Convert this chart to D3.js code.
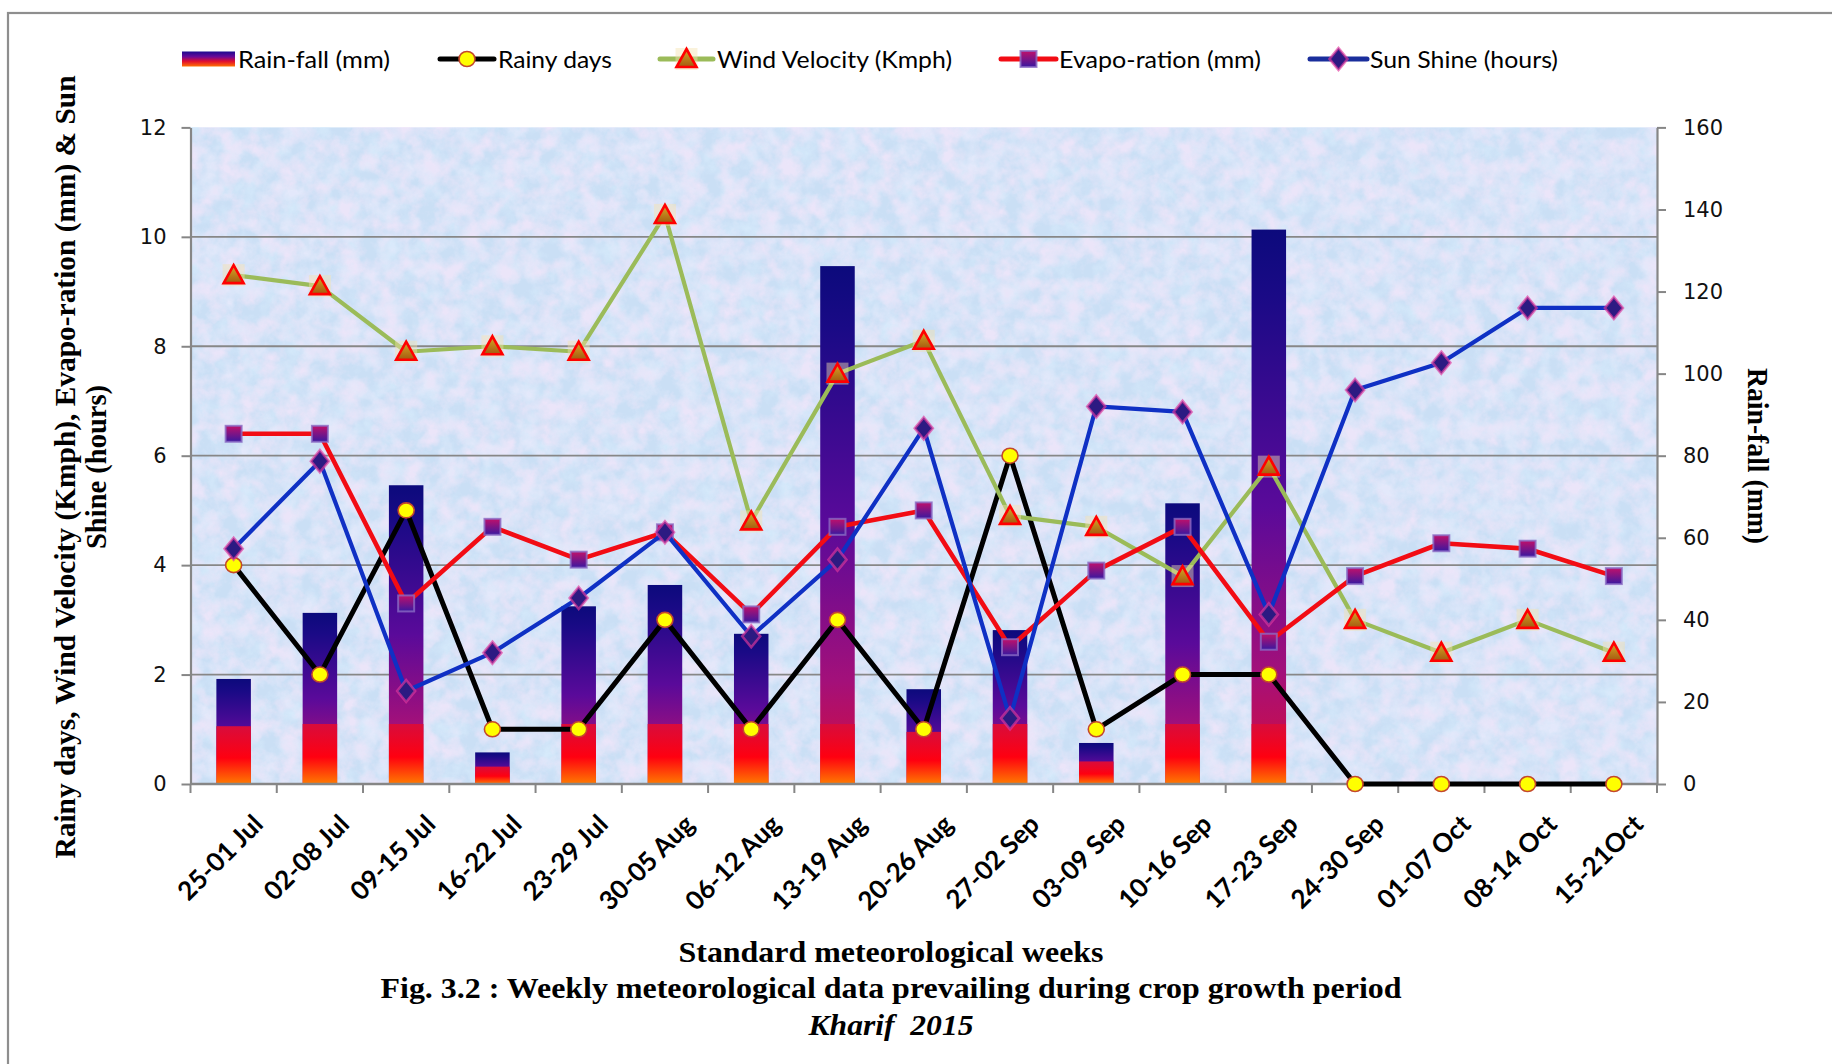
<!DOCTYPE html>
<html>
<head>
<meta charset="utf-8">
<script src="https://cdn.jsdelivr.net/npm/d3@7"></script>
<style>
  html, body { margin: 0; padding: 0; background: #ffffff; }
  svg { display: block; }
</style>
</head>
<body>
<svg id="chart" width="1832" height="1064"></svg>
<script>
// Standard meteorological weeks, Kharif 2015
const weeks = ["25-01 Jul", "02-08 Jul", "09-15 Jul", "16-22 Jul", "23-29 Jul", "30-05 Aug",
  "06-12 Aug", "13-19 Aug", "20-26 Aug", "27-02 Sep", "03-09 Sep", "10-16 Sep",
  "17-23 Sep", "24-30 Sep", "01-07 Oct", "08-14 Oct", "15-21Oct"];

// Rain-fall (mm), right axis
const rainfall = [25.6, 41.7, 72.8, 7.7, 43.3, 48.5, 36.6, 126.2, 23.1, 37.5, 10.0, 68.4, 135.1, 0, 0, 0, 0];
// Left-axis series
const rainyDays = [4, 2, 5, 1, 1, 3, 1, 3, 1, 6, 1, 2, 2, 0, 0, 0, 0];
const windVelocity = [9.3, 9.1, 7.9, 8.0, 7.9, 10.4, 4.8, 7.5, 8.1, 4.9, 4.7, 3.8, 5.8, 3.0, 2.4, 3.0, 2.4];
const evaporation = [6.4, 6.4, 3.3, 4.7, 4.1, 4.6, 3.1, 4.7, 5.0, 2.5, 3.9, 4.7, 2.6, 3.8, 4.4, 4.3, 3.8];
const sunShine = [4.3, 5.9, 1.7, 2.4, 3.4, 4.6, 2.7, 4.1, 6.5, 1.2, 6.9, 6.8, 3.1, 7.2, 7.7, 8.7, 8.7];

const leftTicks = [0, 2, 4, 6, 8, 10, 12];
const rightTicks = [0, 20, 40, 60, 80, 100, 120, 140, 160];

const seriesNames = ["Rain-fall (mm)", "Rainy days", "Wind Velocity (Kmph)", "Evapo-ration (mm)", "Sun Shine (hours)"];

const svg = d3.select("#chart");
const plot = { left: 190.5, right: 1657, top: 127.4, bottom: 784 };

const x = d3.scaleBand().domain(weeks).range([plot.left, plot.right]);
const yL = d3.scaleLinear().domain([0, 12]).range([plot.bottom, plot.top]);
const yR = d3.scaleLinear().domain([0, 160]).range([plot.bottom, plot.top]);
const cx = d => x(d) + x.bandwidth() / 2;

const defs = svg.append("defs");

// mottled paper texture for the plot area
const paper = defs.append("filter").attr("id", "paper")
  .attr("x", 0).attr("y", 0).attr("width", 1).attr("height", 1);
paper.append("feTurbulence").attr("type", "fractalNoise").attr("baseFrequency", "0.05")
  .attr("numOctaves", 4).attr("seed", 7).attr("result", "noise");
paper.append("feColorMatrix").attr("in", "noise").attr("type", "matrix")
  .attr("values", "0 0 0 0 0.70  0 0 0 0 0.85  0 0 0 0 0.98  0 2.2 0 0 -1.0").attr("result", "blue");
paper.append("feColorMatrix").attr("in", "noise").attr("type", "matrix")
  .attr("values", "0 0 0 0 0.92  0 0 0 0 0.80  0 0 0 0 0.96  2.6 0 0 0 -1.05").attr("result", "pink");
paper.append("feColorMatrix").attr("in", "noise").attr("type", "matrix")
  .attr("values", "0 0 0 0 0.84  0 0 0 0 0.84  0 0 0 0 0.98  0 0 2.4 0 -1.0").attr("result", "lav");
const pm = paper.append("feMerge");
pm.append("feMergeNode").attr("in", "blue");
pm.append("feMergeNode").attr("in", "lav");
pm.append("feMergeNode").attr("in", "pink");

function vGrad(id, stops) {
  const g = defs.append("linearGradient").attr("id", id)
    .attr("x1", 0).attr("y1", 0).attr("x2", 0).attr("y2", 1);
  stops.forEach(([o, c]) => g.append("stop").attr("offset", o).attr("stop-color", c));
}
vGrad("barMain", [[0, "#0c0a7c"], [0.12, "#1a0a86"], [0.5, "#5a0a9a"], [0.8, "#a3107a"], [1, "#dc0c36"]]);
vGrad("barBase", [[0, "#d80c3c"], [0.55, "#ff0010"], [1, "#ff7a00"]]);
vGrad("legendBar", [[0, "#1a0a90"], [0.35, "#6a0a98"], [0.65, "#e00c30"], [1, "#ff7000"]]);
vGrad("triFill", [[0, "#d8a828"], [1, "#a45a10"]]);
vGrad("sqFill", [[0, "#c0106a"], [1, "#3a18a0"]]);

// ---- plot area background ----
svg.append("rect").attr("x", plot.left).attr("y", plot.top)
  .attr("width", plot.right - plot.left).attr("height", plot.bottom - plot.top)
  .attr("fill", "#cadff5");
svg.append("rect").attr("x", plot.left).attr("y", plot.top)
  .attr("width", plot.right - plot.left).attr("height", plot.bottom - plot.top)
  .attr("filter", "url(#paper)").attr("opacity", 0.75);

// outer frame
svg.append("rect").attr("x", 8).attr("y", 13).attr("width", 1900).attr("height", 1100)
  .attr("fill", "none").attr("stroke", "#8e8e8e").attr("stroke-width", 2.2);

// ---- gridlines ----
svg.append("g").selectAll("line")
  .data(leftTicks.filter(t => t > 0 && t < 12))
  .join("line")
  .attr("x1", plot.left).attr("x2", plot.right)
  .attr("y1", d => yL(d)).attr("y2", d => yL(d))
  .attr("stroke", "#878787").attr("stroke-width", 1.8);

// ---- bars (rain-fall, right axis) ----
const barW = x.bandwidth() * 0.4;
const bars = svg.append("g");
weeks.forEach((w, i) => {
  const v = rainfall[i];
  if (v <= 0) return;
  const top = yR(v), h = yR(0) - top;
  bars.append("rect").attr("x", cx(w) - barW / 2).attr("y", top)
    .attr("width", barW).attr("height", h).attr("fill", "url(#barMain)");
  const hb = Math.min(h * 0.55, 60);
  bars.append("rect").attr("x", cx(w) - barW / 2).attr("y", yR(0) - hb)
    .attr("width", barW).attr("height", hb).attr("fill", "url(#barBase)");
});

// ---- axes ----
const axisColor = "#868686";
const gL = svg.append("g").attr("transform", `translate(${plot.left},0)`)
  .call(d3.axisLeft(yL).tickValues(leftTicks).tickSize(9).tickSizeOuter(0).tickPadding(15));
const gR = svg.append("g").attr("transform", `translate(${plot.right},0)`)
  .call(d3.axisRight(yR).tickValues(rightTicks).tickSize(9).tickSizeOuter(0).tickPadding(17));
[gL, gR].forEach(g => {
  g.select(".domain").attr("stroke", axisColor).attr("stroke-width", 2.2);
  g.selectAll(".tick line").attr("stroke", axisColor).attr("stroke-width", 2);
  g.selectAll(".tick text").attr("font-family", "'DejaVu Sans', Verdana, sans-serif")
    .attr("font-size", 21).attr("fill", "#111");
});

// category axis
const gX = svg.append("g");
gX.append("line").attr("x1", plot.left).attr("x2", plot.right)
  .attr("y1", plot.bottom).attr("y2", plot.bottom)
  .attr("stroke", axisColor).attr("stroke-width", 2.4);
gX.selectAll("line.tk").data(weeks.map(w => x(w)).concat([plot.right]))
  .join("line").attr("class", "tk")
  .attr("x1", d => d).attr("x2", d => d)
  .attr("y1", plot.bottom).attr("y2", plot.bottom + 9)
  .attr("stroke", axisColor).attr("stroke-width", 2);
gX.selectAll("text").data(weeks).join("text")
  .attr("transform", d => `translate(${cx(d) + 31},${plot.bottom + 42}) rotate(-45)`)
  .attr("text-anchor", "end")
  .attr("font-family", "Lato, 'Open Sans', sans-serif").attr("font-weight", 700)
  .attr("font-size", 26).attr("fill", "#000")
  .text(d => d);

// ---- line series ----
const line = d3.line().x((d, i) => cx(weeks[i])).y(d => yL(d));

function drawSeries(vals, color, width, marker) {
  const g = svg.append("g");
  g.append("path").datum(vals).attr("d", line)
    .attr("fill", "none").attr("stroke", color).attr("stroke-width", width)
    .attr("stroke-linejoin", "round");
  vals.forEach((v, i) => marker(g, cx(weeks[i]), yL(v)));
}

function circleMark(g, px, py) {
  g.append("ellipse").attr("cx", px).attr("cy", py).attr("rx", 8).attr("ry", 7.5)
    .attr("fill", "#ffff00").attr("stroke", "#c4482c").attr("stroke-width", 1.6);
}
function triMark(g, px, py) {
  g.append("rect").attr("x", px - 11).attr("y", py - 11).attr("width", 22).attr("height", 22)
    .attr("fill", "#f3e2b0").attr("opacity", 0.45);
  g.append("path").attr("d", `M${px},${py - 10}L${px + 10},${py + 8}L${px - 10},${py + 8}Z`)
    .attr("fill", "url(#triFill)").attr("stroke", "#ff0000").attr("stroke-width", 2.6)
    .attr("stroke-linejoin", "miter");
}
function squareMark(g, px, py) {
  g.append("rect").attr("x", px - 8).attr("y", py - 8).attr("width", 16).attr("height", 16)
    .attr("fill", "url(#sqFill)").attr("stroke", "#8a6ac4").attr("stroke-width", 2).attr("stroke-opacity", 0.8);
}
function diamondMark(g, px, py) {
  g.append("path").attr("d", `M${px},${py - 11}L${px + 9},${py}L${px},${py + 11}L${px - 9},${py}Z`)
    .attr("fill", "#2c1a82").attr("stroke", "#e0389c").attr("stroke-width", 2.6).attr("stroke-opacity", 0.65);
}

drawSeries(rainyDays, "#000000", 5, circleMark);
drawSeries(windVelocity, "#9bbb59", 4.2, triMark);
drawSeries(evaporation, "#f20c14", 4.6, squareMark);
drawSeries(sunShine, "#0f30c4", 4.2, diamondMark);

// ---- legend ----
const legY = 59;
const leg = svg.append("g");
leg.append("rect").attr("x", 182).attr("y", legY - 7.5).attr("width", 53).attr("height", 15)
  .attr("fill", "url(#legendBar)");
const legendItems = [
  { x1: 440, x2: 494, color: "#000000", w: 5, mark: circleMark },
  { x1: 660, x2: 713, color: "#9bbb59", w: 5, mark: triMark },
  { x1: 1001, x2: 1056, color: "#f20c14", w: 5, mark: squareMark },
  { x1: 1310, x2: 1367, color: "#1a2e9c", w: 5, mark: diamondMark }
];
legendItems.forEach(it => {
  leg.append("line").attr("x1", it.x1).attr("x2", it.x2).attr("y1", legY).attr("y2", legY)
    .attr("stroke", it.color).attr("stroke-width", it.w).attr("stroke-linecap", "round");
  it.mark(leg, (it.x1 + it.x2) / 2, legY);
});
const legTextX = [238, 498, 717, 1059, 1370];
const legTextW = [152, 114, 235, 202, 188];
seriesNames.forEach((s, i) => {
  leg.append("text").attr("x", legTextX[i]).attr("y", legY + 8.5)
    .attr("font-family", "Lato, 'Open Sans', sans-serif").attr("font-size", 24)
    .attr("textLength", legTextW[i]).attr("lengthAdjust", "spacingAndGlyphs")
    .attr("fill", "#000").text(s);
});

// ---- axis titles and captions ----
const serif = "'Liberation Serif', 'Times New Roman', serif";
const lt = svg.append("text").attr("transform", "translate(75,467) rotate(-90)")
  .attr("text-anchor", "middle").attr("font-family", serif).attr("font-weight", 700)
  .attr("font-size", 30).attr("fill", "#000");
lt.append("tspan").attr("x", 0).attr("y", 0)
  .attr("textLength", 783).attr("lengthAdjust", "spacingAndGlyphs")
  .text("Rainy days, Wind Velocity (Kmph), Evapo-ration (mm) & Sun");
lt.append("tspan").attr("x", 0).attr("y", 31)
  .attr("textLength", 164).attr("lengthAdjust", "spacingAndGlyphs")
  .text("Shine (hours)");

svg.append("text").attr("transform", "translate(1748,456) rotate(90)")
  .attr("text-anchor", "middle").attr("font-family", serif).attr("font-weight", 700)
  .attr("font-size", 29).attr("fill", "#000")
  .attr("textLength", 176).attr("lengthAdjust", "spacingAndGlyphs")
  .text("Rain-fall (mm)");

svg.append("text").attr("x", 891).attr("y", 962).attr("text-anchor", "middle")
  .attr("font-family", serif).attr("font-weight", 700).attr("font-size", 30)
  .attr("textLength", 425).attr("lengthAdjust", "spacingAndGlyphs")
  .text("Standard meteorological weeks");
svg.append("text").attr("x", 891).attr("y", 998).attr("text-anchor", "middle")
  .attr("font-family", serif).attr("font-weight", 700).attr("font-size", 30)
  .attr("textLength", 1021).attr("lengthAdjust", "spacingAndGlyphs")
  .text("Fig. 3.2 : Weekly meteorological data prevailing during crop growth period");
svg.append("text").attr("x", 891).attr("y", 1035).attr("text-anchor", "middle")
  .attr("font-family", serif).attr("font-weight", 700).attr("font-style", "italic").attr("font-size", 30)
  .attr("textLength", 165).attr("lengthAdjust", "spacingAndGlyphs")
  .attr("xml:space", "preserve")
  .text("Kharif  2015");
</script>
</body>
</html>
